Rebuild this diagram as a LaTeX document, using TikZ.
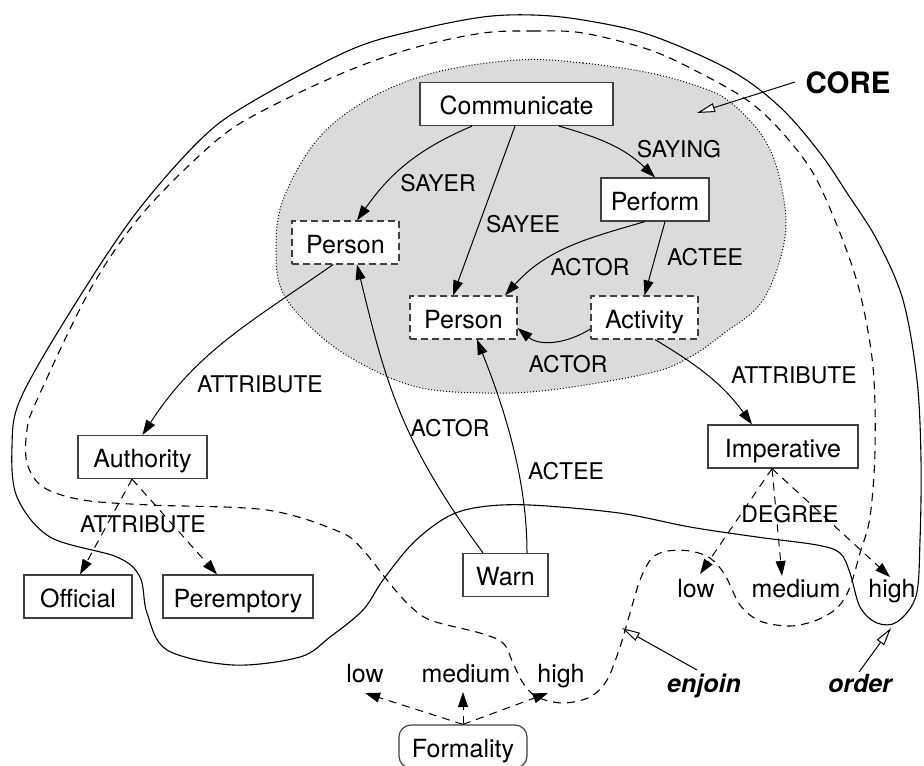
\documentclass[tikz,border=0pt]{standalone}
\usepackage{fontspec}
\setmainfont{TeX Gyre Heros}
\usetikzlibrary{arrows.meta,calc}
\begin{document}
\begin{tikzpicture}[x=0.5pt,y=-0.5pt,
  every node/.style={inner sep=0pt},
  box/.style={draw=black!75, line width=0.6pt, fill=white, minimum height=21.5pt,
    text height=10.5pt, text depth=0pt, font=\fontsize{12.5}{15}\selectfont},
  dbox/.style={box, dash pattern=on 3.5pt off 2pt},
  lbl/.style={font=\fontsize{11.5}{14}\selectfont, anchor=base},
  val/.style={font=\fontsize{12.5}{15}\selectfont, anchor=base},
  rel/.style={line width=0.5pt, -{Triangle[length=7.5pt,width=5pt]}},
  drel/.style={rel, dash pattern=on 4pt off 3pt},
  oarrow/.style={line width=0.5pt, -{Triangle[open,length=9pt,width=4.5pt,fill=white]}},
  region/.style={line width=0.55pt},
]
\useasboundingbox (0,0) rectangle (924,765);

% CORE region
\draw[fill=black!14, line width=0.5pt, dash pattern=on 0.5pt off 1pt]
  plot[smooth cycle, tension=0.6] coordinates {(517,60) (583,63) (650,73) (700,87) (730,102)
  (763,137) (780,180) (785,237) (763,300) (723,334) (690,357) (650,373) (550,390)
  (483,393) (417,387) (360,363) (317,333) (283,293) (276,250) (283,200) (317,140)
  (367,100) (433,73)};

% order region (solid)
\draw[region] plot[smooth cycle, tension=0.55] coordinates {(20,400) (67,317) (133,217)
  (200,140) (250,103) (350,50) (417,30) (483,17) (533,15) (583,20) (650,35) (730,70)
  (780,107) (820,153) (847,193) (877,240) (903,300) (917,380) (921,460) (920,540)
  (916,596) (897,622) (877,623) (860,607) (850,573) (840,553) (817,545) (757,537)
  (690,527) (619,513) (530,505) (480,507) (447,517) (413,543) (383,580) (363,610)
  (330,637) (300,657) (233,665) (167,650) (147,613) (140,577) (117,557) (50,537)
  (17,497) (12,447)};

% enjoin region (dashed)
\draw[region, dash pattern=on 4pt off 3pt] plot[smooth cycle, tension=0.55] coordinates {
  (483,33) (533,31) (583,33) (650,50) (700,73) (747,100) (780,130) (813,173) (840,233)
  (860,293) (873,367) (875,450) (870,517) (860,553) (850,587) (838,607) (817,620)
  (790,626) (760,621) (740,605) (725,575) (710,558) (690,551) (668,551) (652,558)
  (640,580) (630,613) (620,647) (607,680) (590,697) (563,703) (537,697) (523,683)
  (513,663) (503,643) (480,633) (430,620) (407,603) (387,580) (363,550) (340,532)
  (267,510) (150,505) (83,500) (43,487) (27,463) (27,430) (37,400) (90,290) (143,213)
  (217,140) (270,107) (350,70) (417,47)};

% concept nodes
\node[box, minimum width=96.5pt] (comm) at (516.5,104) {Communicate};
\node[dbox, minimum width=53.5pt] (p1) at (345.5,242.5) {Person};
\node[dbox, minimum width=53.5pt] (p2) at (463.5,317.5) {Person};
\node[box, minimum width=54pt] (perf) at (655,199.5) {Perform};
\node[dbox, minimum width=53.5pt] (act) at (644.5,317.5) {Activity};
\node[box, minimum width=64.5pt] (auth) at (142.5,457) {Authority};
\node[box, minimum width=54pt] (off) at (78,596.5) {Official};
\node[box, minimum width=75pt] (per) at (238,596.5) {Peremptory};
\node[box, minimum width=42.5pt] (warn) at (505.5,575) {Warn};
\node[box, minimum width=75pt] (imp) at (783,446.5) {Imperative};
\node[box, minimum width=64pt, rounded corners=6pt] (form) at (463,746.5) {Formality};

% value nodes
\node[val] (ilow) at (696,597) {low};
\node[val] (imed) at (796,597) {medium};
\node[val] (ihigh) at (892,597) {high};
\node[val] (flow) at (365,682) {low};
\node[val] (fmed) at (466,682) {medium};
\node[val] (fhigh) at (561,682) {high};

% relation labels
\node[lbl] (lsayer) at (438,191) {SAYER};
\node[lbl] (lsayee) at (523,232) {SAYEE};
\node[lbl] (lsaying) at (679,157) {SAYING};
\node[lbl] (lactor1) at (590,275) {ACTOR};
\node[lbl] (lactee1) at (705,265) {ACTEE};
\node[lbl] (lactor2) at (568,372) {ACTOR};
\node[lbl] (lattr1) at (794,383) {ATTRIBUTE};
\node[lbl] (lattr2) at (260,392) {ATTRIBUTE};
\node[lbl] (lactor3) at (450,436) {ACTOR};
\node[lbl] (lactee2) at (566,479) {ACTEE};
\node[lbl] (lattr3) at (143,532) {ATTRIBUTE};
\node[lbl] (ldeg) at (790,522) {DEGREE};

% callouts
\node[anchor=base, font=\fontsize{14.7}{17}\selectfont\bfseries] (core) at (848,93) {CORE};
\node[anchor=base, font=\fontsize{12.5}{15}\selectfont\bfseries\itshape] (enjoin) at (704,692) {enjoin};
\node[anchor=base, font=\fontsize{12.5}{15}\selectfont\bfseries\itshape] (order) at (860,692) {order};
\coordinate (coretip) at (697,113);
\coordinate (enjointip) at (622,628);
\coordinate (ordertip) at (891,628);

% relations
\draw[rel] ($(comm.south)+(-44.5,0)$) to[out=203,in=55] ($(p1.north)+(11.5,0)$);
\draw[rel] ($(comm.south)+(-1.5,0)$) -- ($(p2.north)+(-10.5,0)$);
\draw[rel] ($(comm.south)+(42.5,0)$) to[out=-16,in=136] (perf.north);
\draw[rel] ($(perf.south)+(-10,0)$) to[out=196,in=48] ($(p2.north)+(41.5,0)$);
\draw[rel] ($(perf.south)+(10,0)$) -- (act.north);
\draw[rel] ($(act.west)+(0,11.5)$) to[out=212,in=-40] ($(p2.east)+(0,10.5)$);
\draw[rel] ($(p1.south)+(-12.5,0)$) to[out=215,in=57] (auth.north);
\draw[rel] ($(warn.north)+(-22.5,0)$) .. controls (400,440) and (385,380) .. ($(p1.south)+(11.5,0)$);
\draw[rel] ($(warn.north)+(21.5,0)$) .. controls (527,480) and (505,410) .. ($(p2.south)+(13.5,0)$);
\draw[rel] ($(act.south)+(10.5,0)$) to[out=-31,in=126] ($(imp.north)+(-31,0)$);

\draw[drel] ($(auth.south)+(-10.5,0)$) -- ($(off.north)+(2,0)$);
\draw[drel] ($(auth.south)+(-10.5,0)$) -- ($(per.north)+(-21,0)$);

\draw[drel] ($(imp.south)+(-11,0)$) -- ($(ilow.base)+(4,-23)$);
\draw[drel] ($(imp.south)+(-11,0)$) -- ($(imed.base)+(-14,-21)$);
\draw[drel] ($(imp.south)+(-11,0)$) -- ($(ihigh.base)+(-2,-20)$);

\draw[drel] (form.north) -- ($(flow.base)+(0,11)$);
\draw[drel] (form.north) -- ($(fmed.base)+(-3,10)$);
\draw[drel] (form.north) -- ($(fhigh.base)+(-13,11)$);

\draw[oarrow] ($(core.base)+(-53,-11)$) -- (coretip);
\draw[oarrow] ($(enjoin.base)+(-7,-22)$) -- (enjointip);
\draw[oarrow] ($(order.base)+(-1,-20)$) -- (ordertip);
\end{tikzpicture}
\end{document}
